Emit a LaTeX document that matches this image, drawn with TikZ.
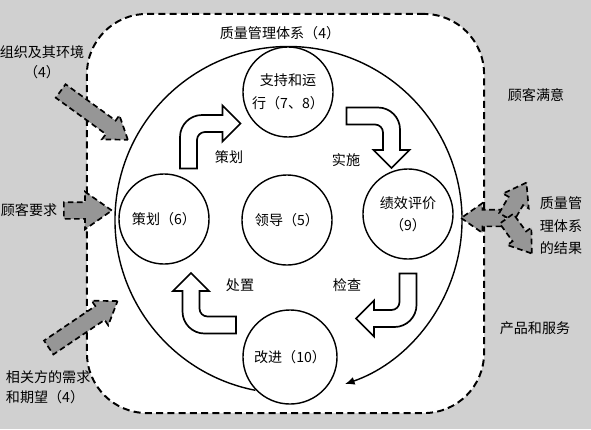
\documentclass[tikz,border=0pt]{standalone}
\usepackage{fontspec}
\newfontfamily\cjk{Noto Sans CJK SC}
\usetikzlibrary{shapes.geometric, shapes.arrows, arrows.meta}

\definecolor{bggray}{RGB}{208,208,208}
\definecolor{arrowgray}{RGB}{150,150,150}

\begin{document}
\begin{tikzpicture}[
    x=0.025cm, y=-0.025cm, >=Latex,
    every node/.style={font=\cjk\fontsize{10}{14}\selectfont},
    qmsbox/.style={draw, line width=1.4pt, dash pattern=on 5pt off 3pt, rounded corners=1.5cm, fill=white, minimum width=9.925cm, minimum height=9.975cm},
    stage/.style={draw, circle, line width=1pt, fill=white, minimum size=2.25cm, inner sep=0pt, align=center, font=\cjk\fontsize{10}{16}\selectfont},
    txt/.style={align=center},
    turn/.style={draw, line width=1.2pt, fill=white},
    inarrow/.style={draw, single arrow, fill=arrowgray, line width=1.2pt, dash pattern=on 4pt off 2.5pt, inner sep=0.1875cm, single arrow head extend=0.1625cm, single arrow tip angle=70, anchor=tail}
]
\tikzset{
    turnarrow/.pic={
        \draw[turn] (-8.5,45) -- (-8.5,13.5) arc[start angle=180, end angle=270, radius=22] -- (34,-8.5) -- (34,-18) -- (52,0) -- (34,18) -- (34,8.5) -- (16.5,8.5) arc[start angle=270, end angle=180, radius=8] -- (8.5,45) -- cycle;
    }
}
\useasboundingbox (0,0) rectangle (591,429);
\fill[bggray] (0,0) rectangle (591,429);
\node[qmsbox] (qms) at (285.5,213.5) {};
\node (qmstitle) at (280,33) {质量管理体系（4）};
% PDCA cycle
\coordinate (pdca) at (288.5,220);
\draw[line width=1pt, -{Latex[length=2.4mm, width=2mm]}] (pdca) ++(101:173.5) arc[start angle=101, end angle=431, radius=173.5];
\node[stage] (support) at (288,92) {支持和运\\行（7、8）};
\node[stage] (plan) at (164,219) {策划（6）};
\node[stage] (lead) at (287,220) {领导（5）};
\node[stage] (eval) at (408,214) {绩效评价\\（9）};
\node[stage, minimum size=2.35cm] (impr) at (290,357) {改进（10）};
\pic at (188.5,123.5) {turnarrow};
\pic[rotate=-90] at (391.5,116) {turnarrow};
\pic[rotate=180] at (408,318.5) {turnarrow};
\pic[rotate=90] at (191,325) {turnarrow};
\node (plantext) at (229,157) {策划};
\node (dotext) at (346,160) {实施};
\node (acttext) at (240,285) {处置};
\node (checktext) at (347,285) {检查};
% inputs
\node[inarrow, minimum height=2.075cm, rotate=-36] (envarrow) at (60,90.5) {};
\node[inarrow, minimum height=1.2cm, single arrow head extend=0.2625cm] (custarrow) at (63,210.5) {};
\node[inarrow, minimum height=2.075cm, rotate=34] (partyarrow) at (48,348) {};
\node[txt] (envtext) at (42,62) {组织及其环境\\（4）};
\node (custtext) at (29,210) {顾客要求};
\node[anchor=west, align=left] (partytext) at (1,387) {相关方的需求\\和期望（4）};
% outputs
\coordinate (hub) at (506,218);
\node[inarrow, minimum height=1.1cm, rotate=180] (outleft) at (hub) {};
\node[inarrow, minimum height=1.0cm, rotate=60] (outup) at (hub) {};
\node[inarrow, minimum height=1.075cm, rotate=-54] (outdown) at (hub) {};
\node (sattext) at (536,95) {顾客满意};
\node[txt, font=\cjk\fontsize{10}{16}\selectfont] (resulttext) at (561,226) {质量管\\理体系\\的结果};
\node (prodtext) at (535,328) {产品和服务};
\end{tikzpicture}
\end{document}
